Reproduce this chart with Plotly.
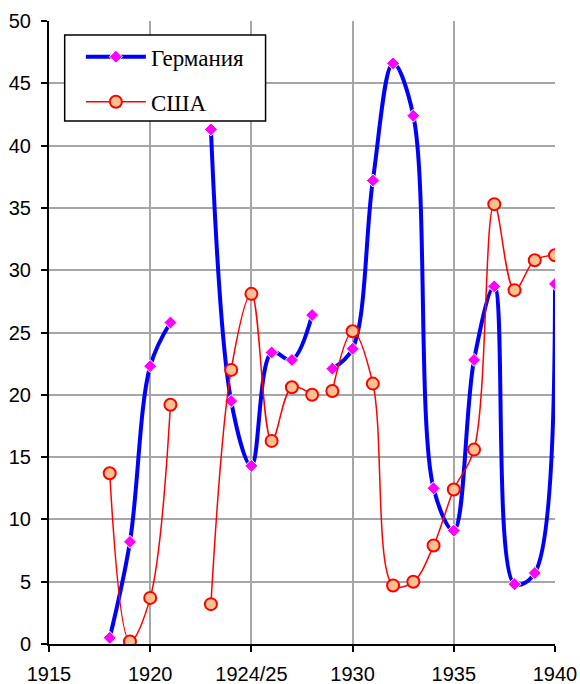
import plotly.graph_objects as go

# None in years marks a break in the lines
years = [1918, 1919, 1920, 1921, None, 1923, 1924, 1925, 1926, 1927, 1928, None,
         1929, 1930, 1931, 1932, 1933, 1934, 1935, 1936, 1937, 1938, 1939, 1940]
germany = [0.5, 8.2, 22.3, 25.8, None, 41.3, 19.5, 14.3, 23.4, 22.8, 26.4, None,
           22.1, 23.7, 37.2, 46.6, 42.4, 12.5, 9.1, 22.8, 28.7, 4.8, 5.7, 28.9]
usa = [13.7, 0.2, 3.7, 19.2, None, 3.2, 22.0, 28.1, 16.3, 20.6, 20.0, None,
       20.3, 25.1, 20.9, 4.7, 5.0, 7.9, 12.4, 15.6, 35.3, 28.4, 30.8, 31.2]

tick_vals = [1915, 1920, 1925, 1930, 1935, 1940]
tick_text = ["1915", "1920", "1924/25", "1930", "1935", "1940"]

fig = go.Figure()
fig.add_trace(go.Scatter(
    x=years, y=germany, name="Германия", mode="lines+markers",
    line=dict(color="#0000FF", width=4, shape="spline", smoothing=1.0),
    marker=dict(symbol="diamond", size=10, color="#FF00FF",
                line=dict(color="white", width=1)),
    connectgaps=False, legendgroup="g1"))
fig.add_trace(go.Scatter(
    x=years, y=usa, name="США", mode="lines+markers",
    line=dict(color="#FF0000", width=1.5, shape="spline", smoothing=1.0),
    marker=dict(symbol="circle", size=12, color="#FFC090",
                line=dict(color="#FF0000", width=2)),
    connectgaps=False, legendgroup="g2"))

# legend frame
fig.add_shape(type="rect", xref="paper", yref="paper",
              x0=0.031, x1=0.428, y0=0.8395, y1=0.9775,
              fillcolor="white", line=dict(color="black", width=1.5),
              layer="above")

fig.update_layout(
    width=580, height=684,
    margin=dict(l=49, r=25, t=21, b=40),
    paper_bgcolor="white", plot_bgcolor="white",
    font=dict(family="Liberation Sans, Arial", size=20, color="black"),
    showlegend=True,
    legend=dict(x=0.063, y=0.977, xanchor="left", yanchor="top",
                bgcolor="rgba(0,0,0,0)", borderwidth=0,
                font=dict(family="Liberation Serif, Times New Roman", size=23),
                traceorder="grouped", tracegroupgap=12, itemwidth=60),
    xaxis=dict(range=[1915, 1940], tickvals=tick_vals, ticktext=tick_text,
               showgrid=True, gridcolor="#A6A6A6", gridwidth=2,
               showline=True, linecolor="black", linewidth=2,
               ticks="outside", tickcolor="black", ticklen=6, tickwidth=2,
               ticklabelstandoff=5,
               zeroline=False, automargin=False),
    yaxis=dict(range=[0, 50], dtick=5,
               showgrid=True, gridcolor="#A6A6A6", gridwidth=2,
               showline=True, linecolor="black", linewidth=2,
               ticks="outside", tickcolor="black", ticklen=6, tickwidth=2,
               ticklabelstandoff=6,
               zeroline=False, automargin=False),
)

fig.write_html(
    "out.html",
    config={"displayModeBar": False},
    post_script="document.body.style.margin='0px';"
                "document.body.style.overflow='hidden';",
)
